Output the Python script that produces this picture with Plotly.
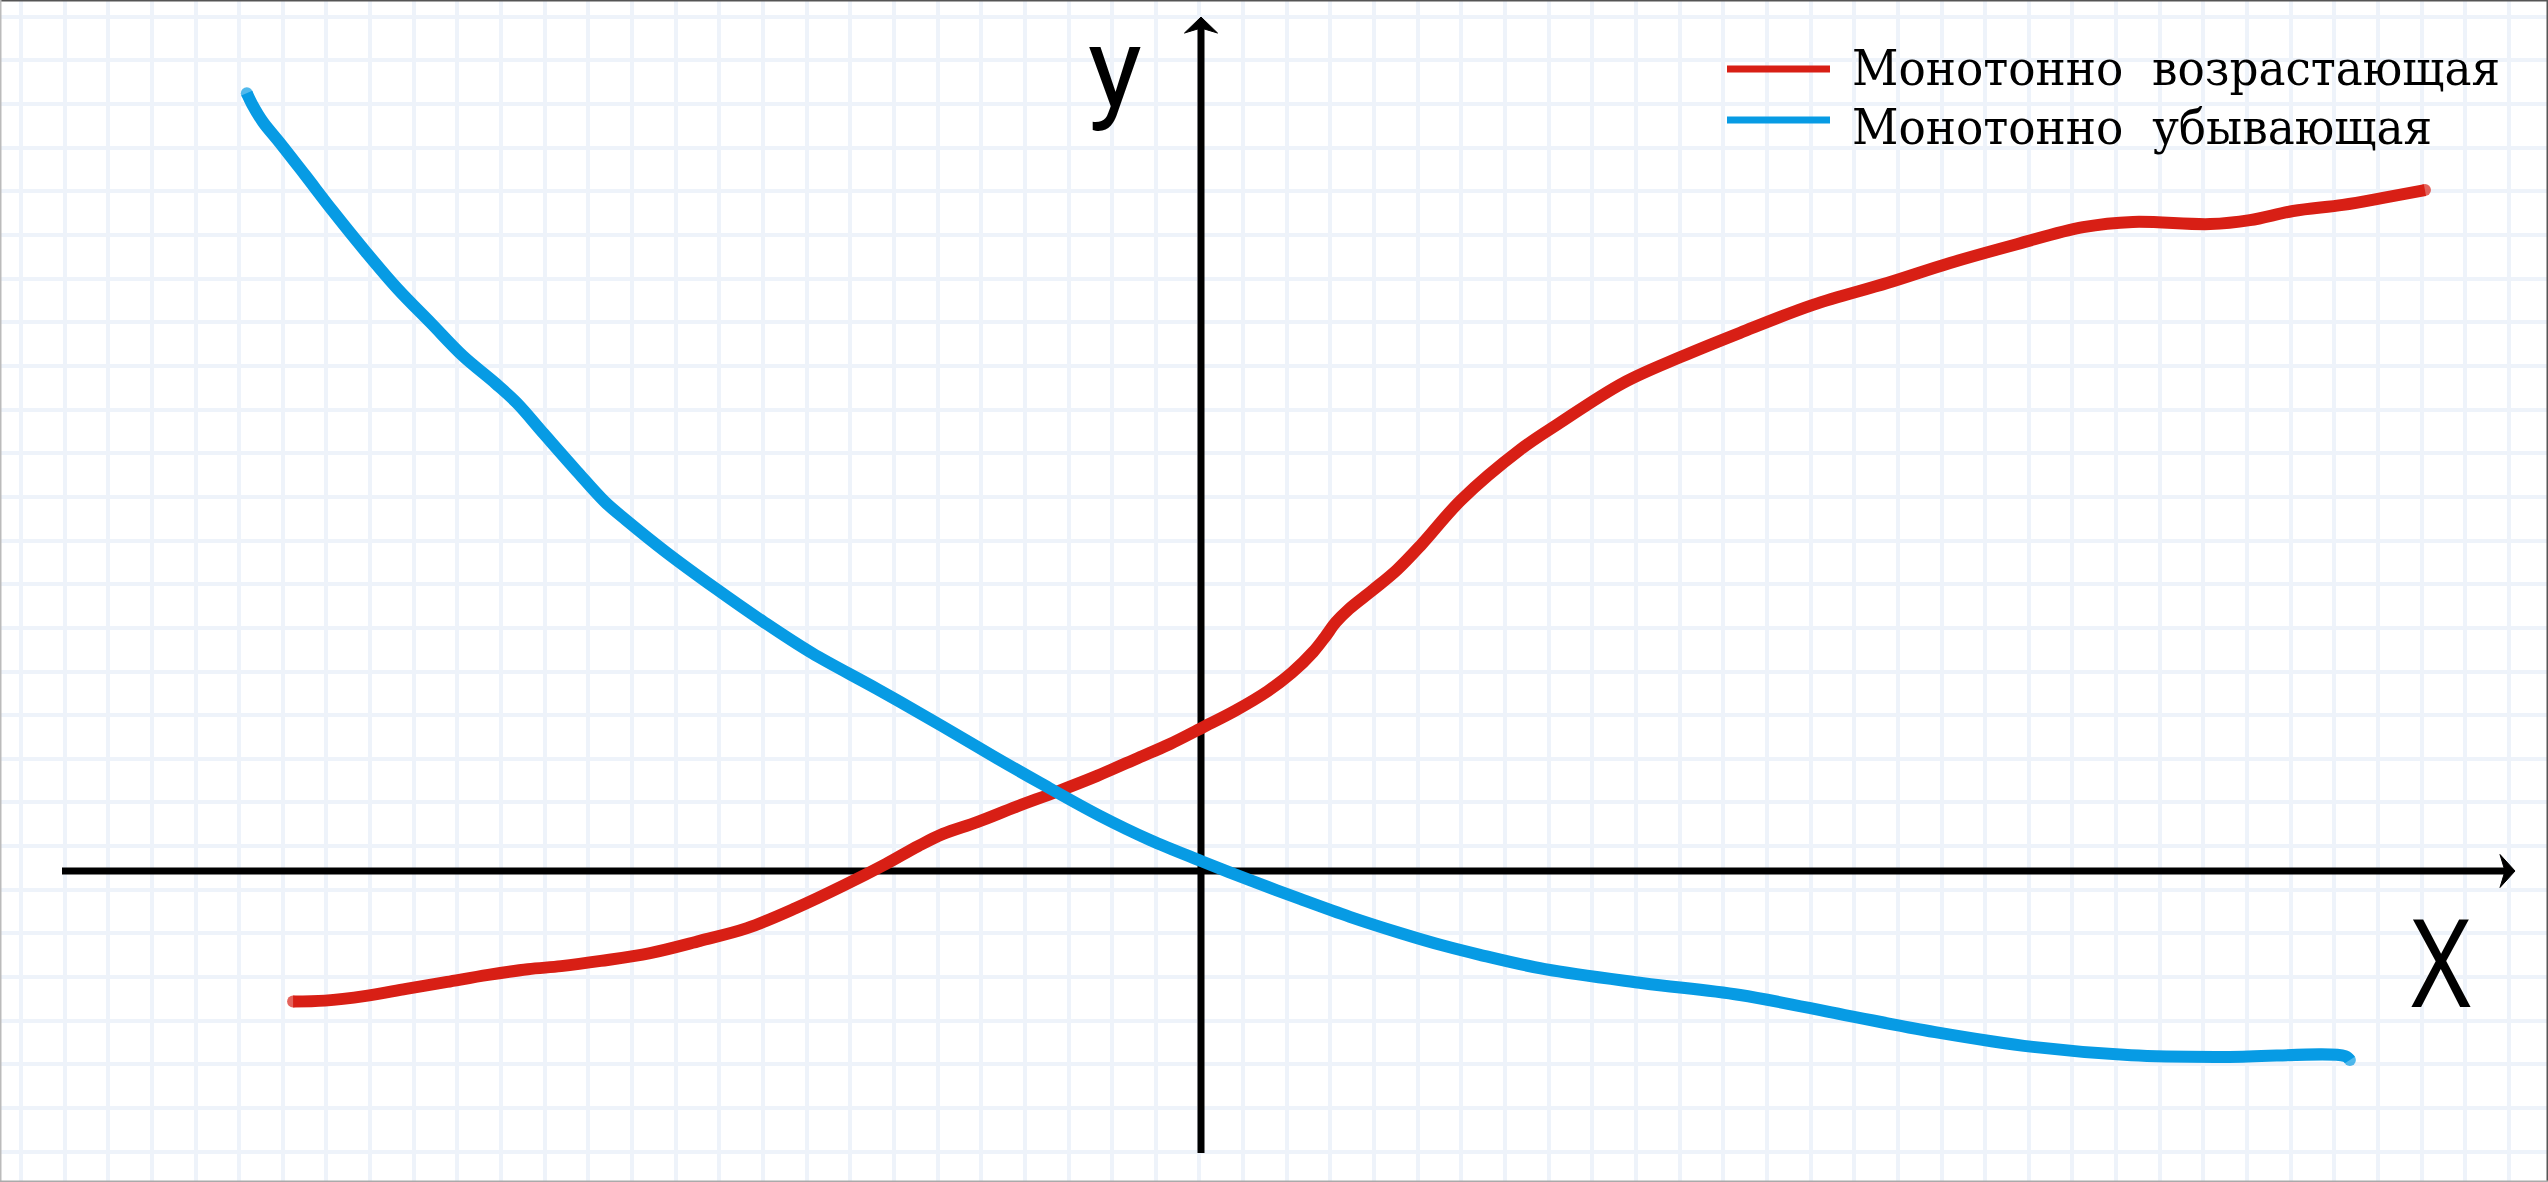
import json
import plotly.graph_objects as go

# ---------------- data (grid units, origin at the axes crossing) ----------------
red_x = [-20.80, -20.07, -19.13, -18.21, -17.27, -16.33, -15.42, -14.66, -13.75, -12.62,
         -11.48, -10.40, -9.28, -8.16, -7.22, -6.48, -5.91, -5.13, -4.24, -3.32,
         -2.38, -1.44, -0.71, 0.02, 0.78, 1.53, 2.08, 2.57, 2.84, 3.09,
         3.39, 3.94, 4.49, 5.06, 5.96, 7.31, 8.18, 9.67, 11.00, 12.35,
         14.02, 15.72, 17.16, 18.69, 20.21, 21.35, 23.12, 24.03, 25.02, 26.16,
         27.08, 28.04]
red_y = [-2.99, -2.97, -2.86, -2.70, -2.54, -2.38, -2.25, -2.18, -2.06, -1.88,
         -1.60, -1.31, -0.85, -0.32, 0.16, 0.57, 0.85, 1.12, 1.47, 1.81,
         2.18, 2.59, 2.91, 3.28, 3.67, 4.12, 4.54, 5.02, 5.36, 5.70,
         6.00, 6.44, 6.90, 7.49, 8.50, 9.65, 10.24, 11.18, 11.78, 12.33,
         12.97, 13.47, 13.93, 14.36, 14.75, 14.87, 14.82, 14.91, 15.12, 15.26,
         15.42, 15.60]

blue_x = [-21.86, -21.74, -21.49, -21.10, -20.53, -19.89, -19.13, -18.40, -17.64, -16.91,
          -16.15, -15.67, -15.05, -14.30, -13.65, -13.17, -12.26, -11.13, -10.01, -8.91,
          -7.42, -5.93, -4.81, -3.69, -2.31, -1.17, 0.00, 1.12, 2.27, 3.41,
          4.56, 5.59, 6.39, 7.88, 10.13, 12.35, 14.75, 16.82, 19.06, 21.31,
          23.53, 26.21, 26.32]
blue_y = [17.82, 17.57, 17.16, 16.68, 15.95, 15.12, 14.18, 13.33, 12.55, 11.80,
          11.16, 10.72, 10.01, 9.16, 8.45, 8.04, 7.31, 6.48, 5.70, 4.99,
          4.17, 3.32, 2.66, 2.02, 1.26, 0.71, 0.23, -0.21, -0.64, -1.05,
          -1.42, -1.72, -1.92, -2.25, -2.57, -2.84, -3.30, -3.69, -4.03, -4.22,
          -4.26, -4.24, -4.33]

series_names = ["Монотонно\u00a0 возрастающая", "Монотонно\u00a0 убывающая"]
axis_labels = ["X", "y"]

# ---------------- layout constants ----------------
W, H = 2548, 1182
UNIT = 43.65          # px per grid cell
OX, OY = 1201, 871    # px position of the origin
RED = "#d81f15"
BLUE = "#079be4"
GRID = "#eef3fa"
LW = 12


def px2x(px):
    return (px - OX) / UNIT


def py2y(py):
    return (OY - py) / UNIT


def pap_x(px):
    return px / W


def pap_y(py):
    return 1 - py / H


def caps(n, size):
    return [size] + [0] * (n - 2) + [size]


fig = go.Figure()
fig.add_trace(go.Scatter(
    x=red_x, y=red_y, mode="lines+markers", name=series_names[0],
    line=dict(color=RED, width=LW, shape="spline", smoothing=1.0),
    marker=dict(color=RED, size=caps(len(red_x), LW), line=dict(width=0)),
    showlegend=False, hoverinfo="skip"))
fig.add_trace(go.Scatter(
    x=blue_x, y=blue_y, mode="lines+markers", name=series_names[1],
    line=dict(color=BLUE, width=LW, shape="spline", smoothing=1.0),
    marker=dict(color=BLUE, size=caps(len(blue_x), LW), line=dict(width=0)),
    showlegend=False, hoverinfo="skip"))

shapes = []
AXW = 7
# x axis + arrow
shapes.append(dict(type="line", xref="x", yref="y", x0=px2x(62), x1=px2x(2506), y0=0, y1=0,
                   line=dict(color="black", width=AXW), layer="between"))
shapes.append(dict(type="path", xref="x", yref="y",
                   path=(f"M {px2x(2515)},0 L {px2x(2500)},{16.5/UNIT} L {px2x(2505)},0 "
                         f"L {px2x(2500)},{-16.5/UNIT} Z"),
                   fillcolor="black", line=dict(color="black", width=1), layer="between"))
# y axis + arrow
shapes.append(dict(type="line", xref="x", yref="y", x0=0, x1=0, y0=py2y(1153), y1=py2y(27),
                   line=dict(color="black", width=AXW), layer="between"))
shapes.append(dict(type="path", xref="x", yref="y",
                   path=(f"M 0,{py2y(17)} L {16.5/UNIT},{py2y(33)} L 0,{py2y(28)} "
                         f"L {-16.5/UNIT},{py2y(33)} Z"),
                   fillcolor="black", line=dict(color="black", width=1), layer="between"))
# legend bars
for col, py in ((RED, 69), (BLUE, 120)):
    shapes.append(dict(type="line", xref="paper", yref="paper",
                       x0=pap_x(1727), x1=pap_x(1830), y0=pap_y(py), y1=pap_y(py),
                       line=dict(color=col, width=7)))
# frame
shapes.append(dict(type="line", xref="paper", yref="paper", x0=0, x1=1, y0=1, y1=1,
                   line=dict(color="#555555", width=3)))
shapes.append(dict(type="line", xref="paper", yref="paper", x0=1, x1=1, y0=0, y1=1,
                   line=dict(color="#555555", width=3)))
shapes.append(dict(type="line", xref="paper", yref="paper", x0=0, x1=0, y0=0, y1=1,
                   line=dict(color="#bbbbbb", width=3)))
shapes.append(dict(type="line", xref="paper", yref="paper", x0=0, x1=1, y0=0, y1=0,
                   line=dict(color="#aaaaaa", width=3)))

annotations = []
legend_font = dict(family="DejaVu Serif Condensed, DejaVu Serif", size=48, color="black")
annotations.append(dict(text=series_names[0], xref="paper", yref="paper",
                        x=pap_x(1852), y=pap_y(68.4), xanchor="left", yanchor="middle",
                        align="left", showarrow=False, font=legend_font, borderpad=0, borderwidth=0))
annotations.append(dict(text=series_names[1], xref="paper", yref="paper",
                        x=pap_x(1852), y=pap_y(127.4), xanchor="left", yanchor="middle",
                        align="left", showarrow=False, font=legend_font, borderpad=0, borderwidth=0))
annotations.append(dict(text=axis_labels[0], xref="paper", yref="paper",
                        x=pap_x(2411), y=pap_y(960), xanchor="left", yanchor="middle",
                        align="left", showarrow=False,
                        font=dict(family="Noto Sans", size=122, color="black"),
                        borderpad=0, borderwidth=0))
annotations.append(dict(text=axis_labels[1], xref="paper", yref="paper",
                        x=pap_x(1088), y=pap_y(1), xanchor="left", yanchor="top",
                        align="left", showarrow=False,
                        font=dict(family="Roboto", size=114, color="black"),
                        borderpad=0, borderwidth=0))

# target text widths (px) of the narrow lettering in the reference, per annotation index
text_lengths = [648, 580, 60, None]

fig.update_layout(
    width=W, height=H, autosize=False,
    margin=dict(l=0, r=0, t=0, b=0, pad=0),
    paper_bgcolor="white", plot_bgcolor="white",
    showlegend=False,
    shapes=shapes, annotations=annotations,
    xaxis=dict(range=[px2x(0), px2x(W)], showgrid=True, gridcolor=GRID, gridwidth=4,
               tick0=-0.035, dtick=1, zeroline=False, showticklabels=False, ticks="",
               showline=False, fixedrange=True),
    yaxis=dict(range=[py2y(H), py2y(0)], showgrid=True, gridcolor=GRID, gridwidth=4,
               tick0=0.57, dtick=1, zeroline=False, showticklabels=False, ticks="",
               showline=False, fixedrange=True),
)

post = """
document.body.style.margin = '0';
document.body.style.overflow = 'hidden';
var gd = document.getElementById('{plot_id}');
var lens = %s;
gd.querySelectorAll('g.annotation').forEach(function(g) {
  var i = parseInt(g.getAttribute('data-index'));
  var L = lens[i];
  if (L) {
    var t = g.querySelector('text.annotation-text');
    if (t) { t.setAttribute('textLength', L); t.setAttribute('lengthAdjust', 'spacingAndGlyphs'); }
  }
});
""" % json.dumps(text_lengths)

fig.write_html("out.html", config={"displayModeBar": False, "staticPlot": True}, post_script=post)
